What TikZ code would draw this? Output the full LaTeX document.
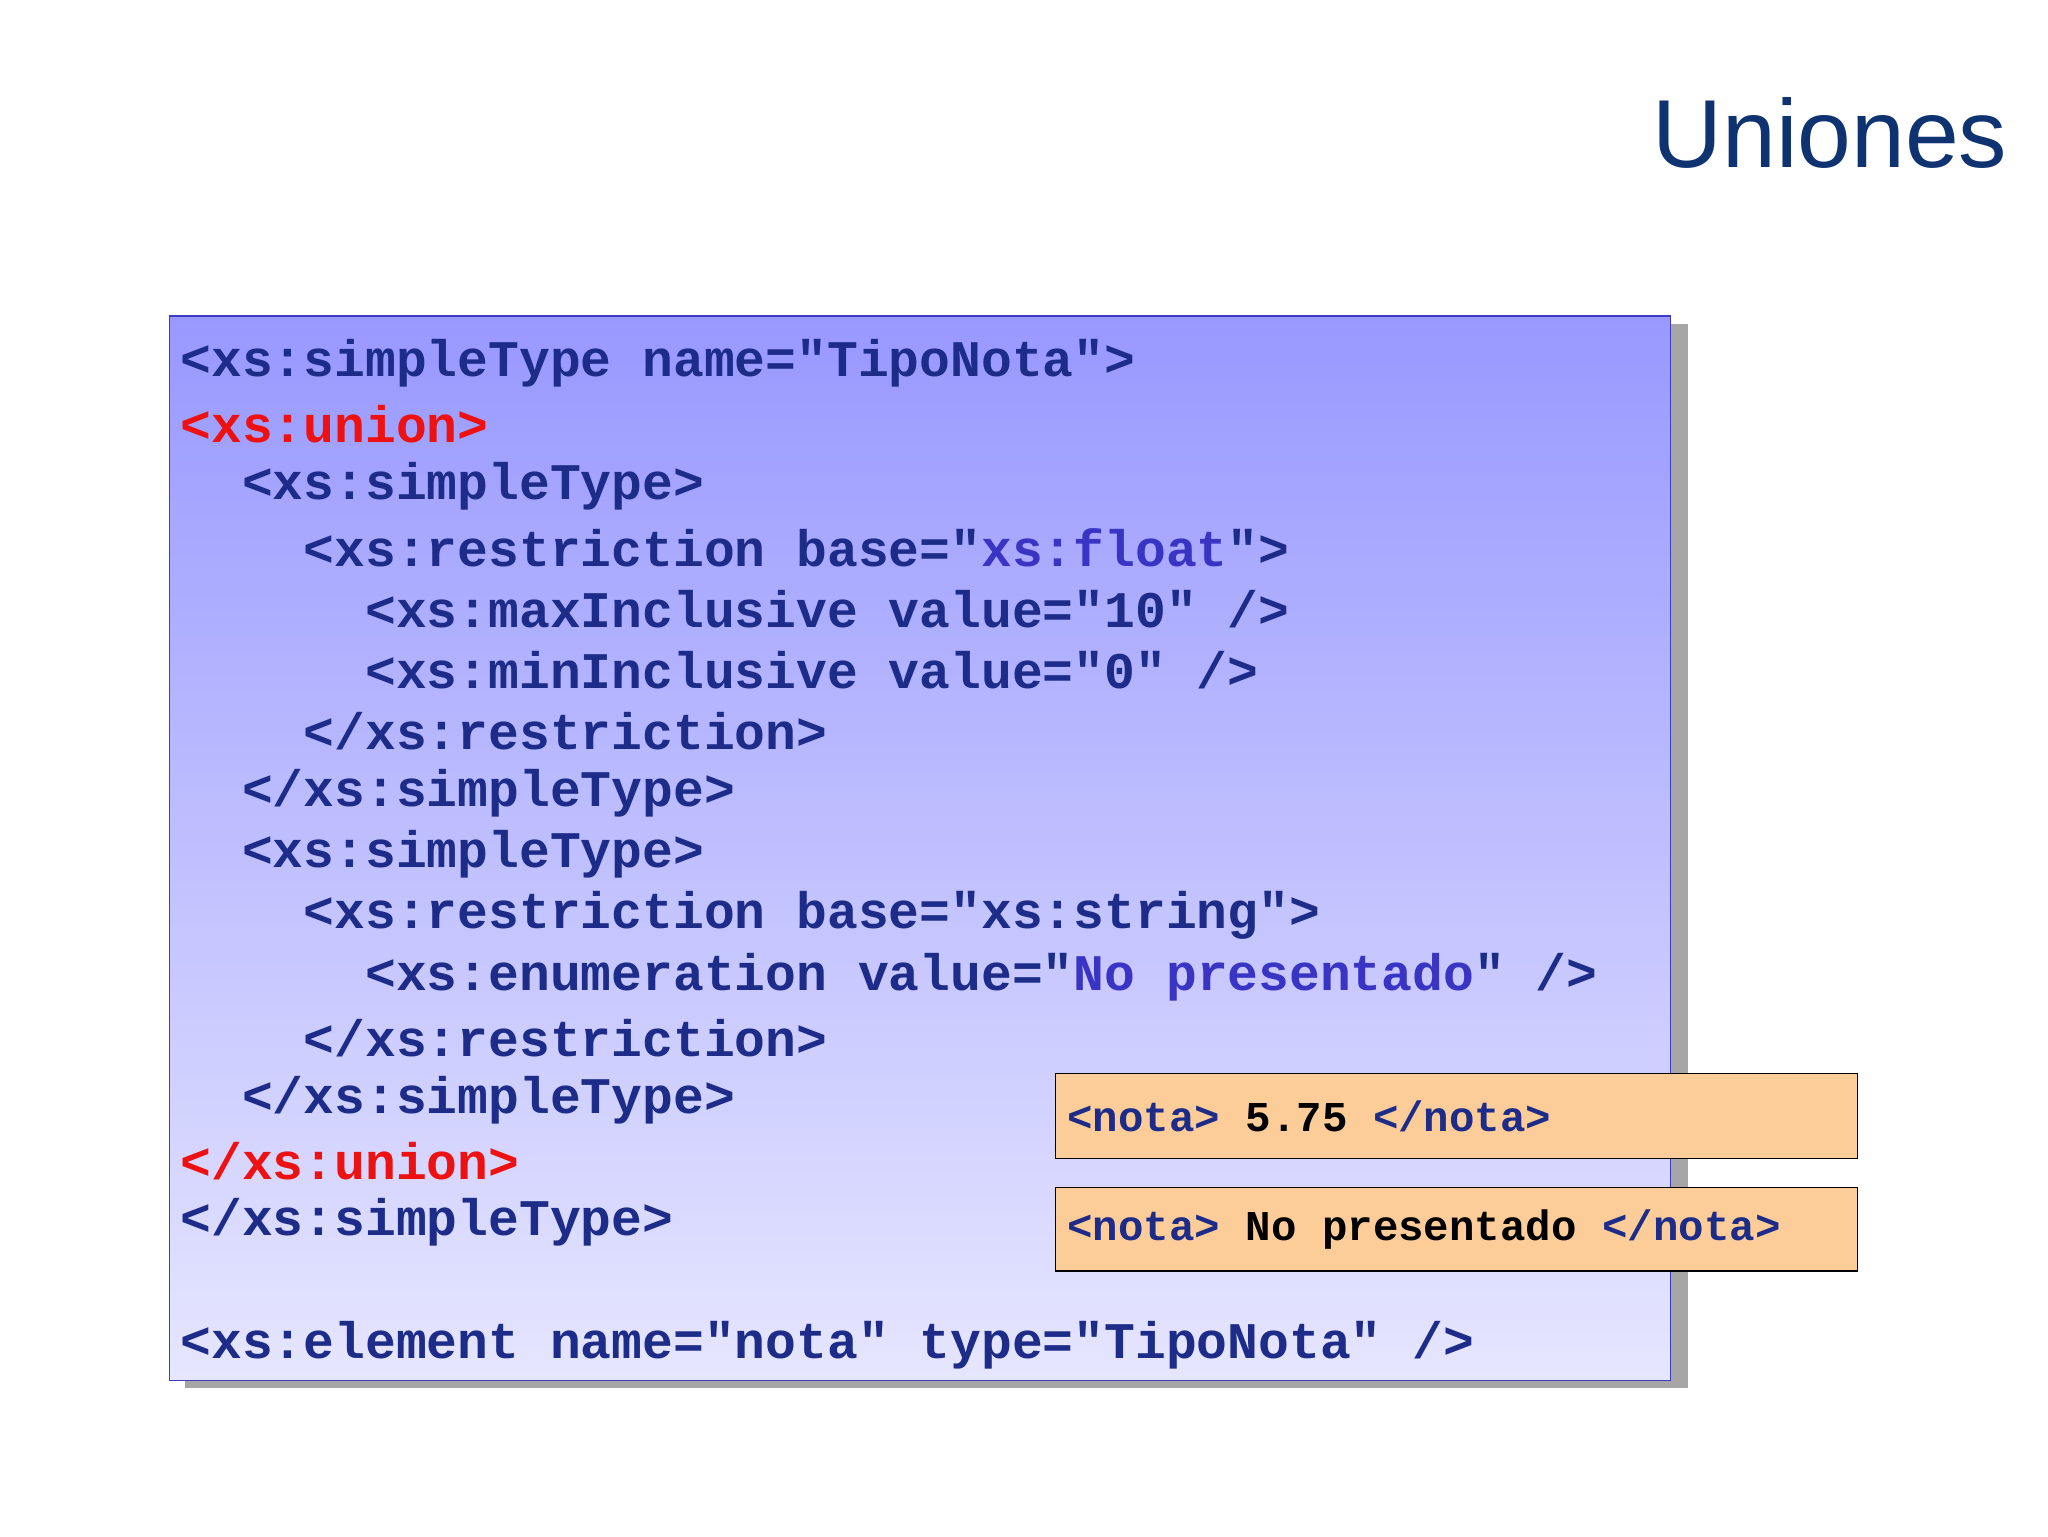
\documentclass[tikz,border=0pt]{standalone}
\usepackage{fontspec}
\setmainfont{Liberation Sans}
\newfontfamily\codefont{Liberation Mono}
\definecolor{cb}{HTML}{1C2C88}
\definecolor{cr}{HTML}{EE1111}
\definecolor{cp}{HTML}{3A34C4}
\definecolor{ttl}{HTML}{0E3370}
\definecolor{org}{HTML}{FCCC99}
\tikzset{x=1pt,y=-1pt,
 code/.style={anchor=west,inner sep=0pt,font=\codefont\bfseries\fontsize{39.3}{47}\selectfont,text=cb},
 nbox/.style={draw=black,line width=1.2pt,fill=org}}
\begin{document}
\begin{tikzpicture}
\useasboundingbox (0,0) rectangle (1568,1176);
\fill[white] (0,0) rectangle (1568,1176);
\fill[gray!70] (142,248) rectangle (1292,1063);
\shade[top color={rgb,255:red,152;green,152;blue,255},bottom color={rgb,255:red,230;green,230;blue,255},draw={rgb,255:red,60;green,60;blue,200},line width=1pt] (130,242) rectangle (1279,1057);
\node[anchor=base east,inner sep=0pt,text=ttl,font=\fontsize{74}{80}\selectfont] (title) at (1537,128) {Uniones};
\node[code] (l1) at (138,278) {<xs:simpleType name="TipoNota">};
\node[code,text=cr] (l2) at (138,325) {<xs:union>};
\node[code] (l3) at (138,372) {\ \ <xs:simpleType>};
\node[code] (l4) at (138,419) {\ \ \ \ <xs:restriction base="\textcolor{cp}{xs:float}">};
\node[code] (l5) at (138,466) {\ \ \ \ \ \ <xs:maxInclusive value="10" />};
\node[code] (l6) at (138,513) {\ \ \ \ \ \ <xs:minInclusive value="0" />};
\node[code] (l7) at (138,560) {\ \ \ \ </xs:restriction>};
\node[code] (l8) at (138,607) {\ \ </xs:simpleType>};
\node[code] (l9) at (138,654) {\ \ <xs:simpleType>};
\node[code] (l10) at (138,701) {\ \ \ \ <xs:restriction base="xs:string">};
\node[code] (l11) at (138,748) {\ \ \ \ \ \ <xs:enumeration value="\textcolor{cp}{No presentado}" />};
\node[code] (l12) at (138,795) {\ \ \ \ </xs:restriction>};
\node[code] (l13) at (138,842) {\ \ </xs:simpleType>};
\node[code,text=cr] (l14) at (138,889) {</xs:union>};
\node[code] (l15) at (138,936) {</xs:simpleType>};
\node[code] (l16) at (138,1030) {<xs:element name="nota" type="TipoNota" />};
\draw[nbox] (808,822) rectangle (1422,887);
\draw[nbox] (808,909) rectangle (1422,973);
\node[code,font=\codefont\bfseries\fontsize{32.5}{40}\selectfont] (n1) at (817,855) {<nota> \textcolor{black}{5.75} </nota>};
\node[code,font=\codefont\bfseries\fontsize{32.5}{40}\selectfont] (n2) at (817,941) {<nota> \textcolor{black}{No presentado} </nota>};
\end{tikzpicture}
\end{document}
